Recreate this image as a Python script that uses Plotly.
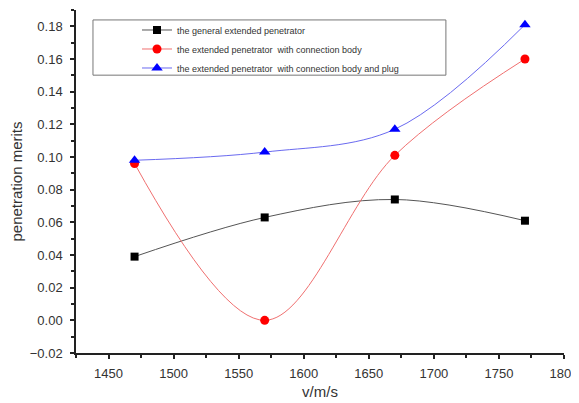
import plotly.graph_objects as go

velocity = [1470, 1570, 1670, 1770]
general = [0.039, 0.063, 0.074, 0.061]
conn_body = [0.096, 0.000, 0.101, 0.160]
conn_plug = [0.098, 0.103, 0.117, 0.181]
names = ["the general extended penetrator",
         "the extended penetrator\u00a0 with connection body",
         "the extended penetrator\u00a0 with connection body and plug"]
x_ticks = [1450, 1500, 1550, 1600, 1650, 1700, 1750, 1800]
y_ticks = [-0.02, 0.00, 0.02, 0.04, 0.06, 0.08, 0.10, 0.12, 0.14, 0.16, 0.18]

fig = go.Figure()
fig.add_trace(go.Scatter(x=velocity, y=general, name=names[0], mode="lines+markers",
                         line=dict(color="#555555", width=1, shape="spline"),
                         marker=dict(symbol="square", size=8, color="black")))
fig.add_trace(go.Scatter(x=velocity, y=conn_body, name=names[1], mode="lines+markers",
                         line=dict(color="#f07070", width=1, shape="spline", smoothing=1.0),
                         marker=dict(symbol="circle", size=9, color="red")))
fig.add_trace(go.Scatter(x=velocity, y=conn_plug, name=names[2], mode="lines+markers",
                         line=dict(color="#6a6af0", width=1, shape="spline"),
                         marker=dict(symbol="triangle-up", size=10, color="blue")))

# legend frame (decorative box behind the legend entries)
fig.add_shape(type="rect", xref="paper", yref="paper",
              x0=0.0348, x1=0.758, y0=0.81, y1=0.971,
              line=dict(color="#777777", width=1), fillcolor="white", layer="below")

# page body has an 8px margin, so the figure is sized to fit the window
fig.update_layout(
    width=571, height=395,
    margin=dict(l=68, r=15, t=2, b=50, autoexpand=False),
    paper_bgcolor="white", plot_bgcolor="white",
    font=dict(family="Liberation Sans, Arial, sans-serif", color="#333333"),
    showlegend=True,
    legend=dict(x=0.125, y=0.984, xanchor="left", yanchor="top",
                bgcolor="rgba(0,0,0,0)", borderwidth=0,
                font=dict(size=9, color="#333333"), tracegroupgap=0),
    xaxis=dict(range=[1425, 1800], tickvals=x_ticks, ticks="outside", ticklen=4,
               tickwidth=1.5, tickcolor="#222222", automargin=False,
               showline=True, linecolor="#222222", linewidth=1.5, showgrid=False,
               zeroline=False, tickfont=dict(size=13), ticklabelstandoff=4,
               minor=dict(dtick=25, tick0=1425, ticks="outside", ticklen=3, tickcolor="#222222"),
               title=dict(text="v/m/s", font=dict(size=15), standoff=6)),
    yaxis=dict(range=[-0.02, 0.19], tickvals=y_ticks, tickformat=".2f", ticks="outside",
               ticklen=4, tickwidth=1.5, tickcolor="#222222", automargin=False,
               showline=True, linecolor="#222222", linewidth=1.5, showgrid=False,
               zeroline=False, tickfont=dict(size=13), ticklabelstandoff=5,
               minor=dict(dtick=0.01, tick0=0, ticks="outside", ticklen=3, tickcolor="#222222"),
               title=dict(text="penetration merits", font=dict(size=15), standoff=8)),
)

fig.write_html("out.html")
